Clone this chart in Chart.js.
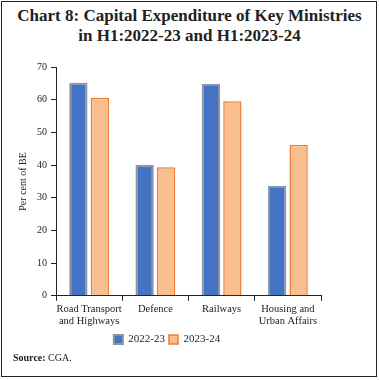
<!DOCTYPE html>
<html>
<head>
<meta charset="utf-8">
<script src="https://cdn.jsdelivr.net/npm/chart.js@4"></script>
<style>
  body { margin: 0; background: #fff; }
  #frame { position: absolute; left: 1px; top: 1px; width: 374px; height: 374px; border: 1.5px solid #222; }
  #title { position: absolute; left: 0; top: 6px; width: 379px; text-align: center; font: bold 17px "Liberation Serif", serif; line-height: 20px; color: #222; }
  #wrap { position: absolute; left: 0; top: 57px; width: 379px; height: 298px; }
  #source { position: absolute; left: 13px; top: 352px; font: 10px "Liberation Serif", serif; color: #222; }
</style>
</head>
<body>
<div id="frame"></div>
<div id="title">Chart 8: Capital Expenditure of Key Ministries<br>in H1:2022-23 and H1:2023-24</div>
<div id="wrap"><canvas id="barChart"></canvas></div>
<div id="source"><b>Source:</b> CGA.</div>
<script>
var categories = [["Road Transport", "and Highways"], "Defence", "Railways", ["Housing and", "Urban Affairs"]];
var values2223 = [65.2, 40.1, 64.8, 33.6];
var values2324 = [60.6, 39.3, 59.5, 46.2];
var yTicks = [0, 10, 20, 30, 40, 50, 60, 70];

var ctx = document.getElementById("barChart").getContext('2d');
var barChart = new Chart(ctx, {
  type: 'bar',
  data: {
    labels: categories,
    datasets: [{
        label: "2022-23",
        data: values2223,
        backgroundColor: '#4472C4',
        borderColor: '#8A93A3',
        borderWidth: 2,
        borderSkipped: 'bottom'
      },
      {
        label: "2023-24",
        data: values2324,
        backgroundColor: '#F9BE8E',
        borderColor: '#ED7D31',
        borderWidth: 1.5,
        borderSkipped: 'bottom'
      }
    ]
  },
  options: {
    responsive: true,
    maintainAspectRatio: false,
    animation: false,
    categoryPercentage: 0.65,
    barPercentage: 0.85,
    layout: { padding: { left: 13, right: 58, top: 6, bottom: 0 } },
    plugins: {
      legend: {
        position: 'bottom',
        labels: {
          boxWidth: 9, boxHeight: 9, padding: 4,
          font: { family: "Liberation Serif", size: 11 }, color: '#222'
        }
      },
      tooltip: { enabled: false }
    },
    scales: {
      x: {
        grid: { display: true, drawOnChartArea: false, drawTicks: true, tickLength: 5, color: '#222', offset: true },
        border: { color: '#222', width: 1 },
        ticks: { font: { family: "Liberation Serif", size: 10.5 }, color: '#222', padding: 2, maxRotation: 0, minRotation: 0, autoSkip: false }
      },
      y: {
        min: 0, max: 70,
        afterBuildTicks: function (axis) { axis.ticks = yTicks.map(function (v) { return { value: v }; }); },
        grid: { display: true, drawOnChartArea: false, drawTicks: true, tickLength: 5, color: '#222' },
        border: { color: '#222', width: 1 },
        ticks: { font: { family: "Liberation Serif", size: 10 }, color: '#222', padding: 4 },
        title: { display: true, text: 'Per cent of BE', font: { family: "Liberation Serif", size: 10 }, color: '#222', padding: 4 }
      }
    }
  }
});
</script>
</body>
</html>
